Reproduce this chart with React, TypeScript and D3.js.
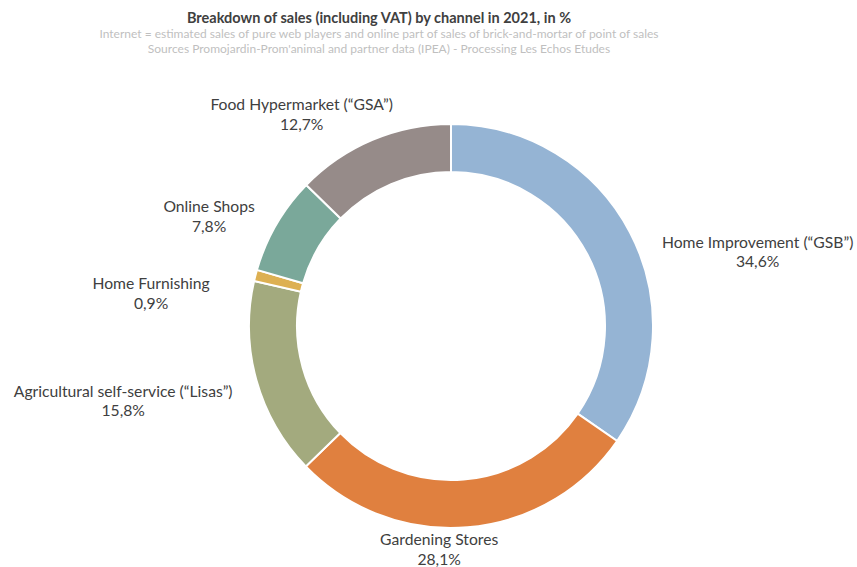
import React from "react";
import * as d3 from "d3";

const categories = [
  "Home Improvement (“GSB”)",
  "Gardening Stores",
  "Agricultural self-service (“Lisas”)",
  "Home Furnishing",
  "Online Shops",
  "Food Hypermarket (“GSA”)",
];
const shares = [34.6, 28.1, 15.8, 0.9, 7.8, 12.7];
const colors = ["#95B4D4", "#E0803F", "#A3AA7E", "#DDB052", "#7AA89A", "#968B89"];
const title = "Breakdown of sales (including VAT) by channel in 2021, in %";
const subtitles = [
  "Internet = estimated sales of pure web players and online part of sales of brick-and-mortar of point of sales",
  "Sources Promojardin-Prom'animal and partner data (IPEA) - Processing Les Echos Etudes",
];

// layout tweaks for label blocks (relative to arc anchor), Excel-like placement
const labelNudge: [number, number][] = [
  [110, 29],
  [-30, 2],
  [-114, 15],
  [-85, 23],
  [-50, 2],
  [-63, -7],
];

const W = 857;
const H = 567;
const cx = 451;
const cy = 326;
const R = 202;
const r = 154;

export default function App() {
  const pie = d3
    .pie<number>()
    .sort(null)
    .value((d) => d)(shares);
  const arc = d3.arc<d3.PieArcDatum<number>>().innerRadius(r).outerRadius(R);
  const labelArc = d3
    .arc<d3.PieArcDatum<number>>()
    .innerRadius(R + 20)
    .outerRadius(R + 20);
  const fmt = (v: number) => v.toFixed(1).replace(".", ",") + "%";
  const font = "Lato, 'Open Sans', sans-serif";

  return (
    <svg
      width={W}
      height={H}
      style={{ position: "absolute", left: 0, top: 0, background: "#fff" }}
      fontFamily={font}
    >
      <text x={379} y={23} textAnchor="middle" fontSize={14.5} fontWeight="bold" fill="#404040">
        {title}
      </text>
      {subtitles.map((s, i) => (
        <text key={i} x={379} y={38 + i * 14.5} textAnchor="middle" fontSize={12} fill="#BFBFBF">
          {s}
        </text>
      ))}
      <g transform={`translate(${cx},${cy})`}>
        {pie.map((d, i) => (
          <path key={i} d={arc(d) || ""} fill={colors[i]} stroke="#fff" strokeWidth={2} />
        ))}
        {pie.map((d, i) => {
          const [ax, ay] = labelArc.centroid(d);
          const x = ax + labelNudge[i][0];
          const y = ay + labelNudge[i][1];
          return (
            <text key={"l" + i} textAnchor="middle" fontSize={15.7} fill="#404040">
              <tspan x={x} y={y - 4}>{categories[i]}</tspan>
              <tspan x={x} y={y + 15.5}>{fmt(shares[i])}</tspan>
            </text>
          );
        })}
      </g>
    </svg>
  );
}
